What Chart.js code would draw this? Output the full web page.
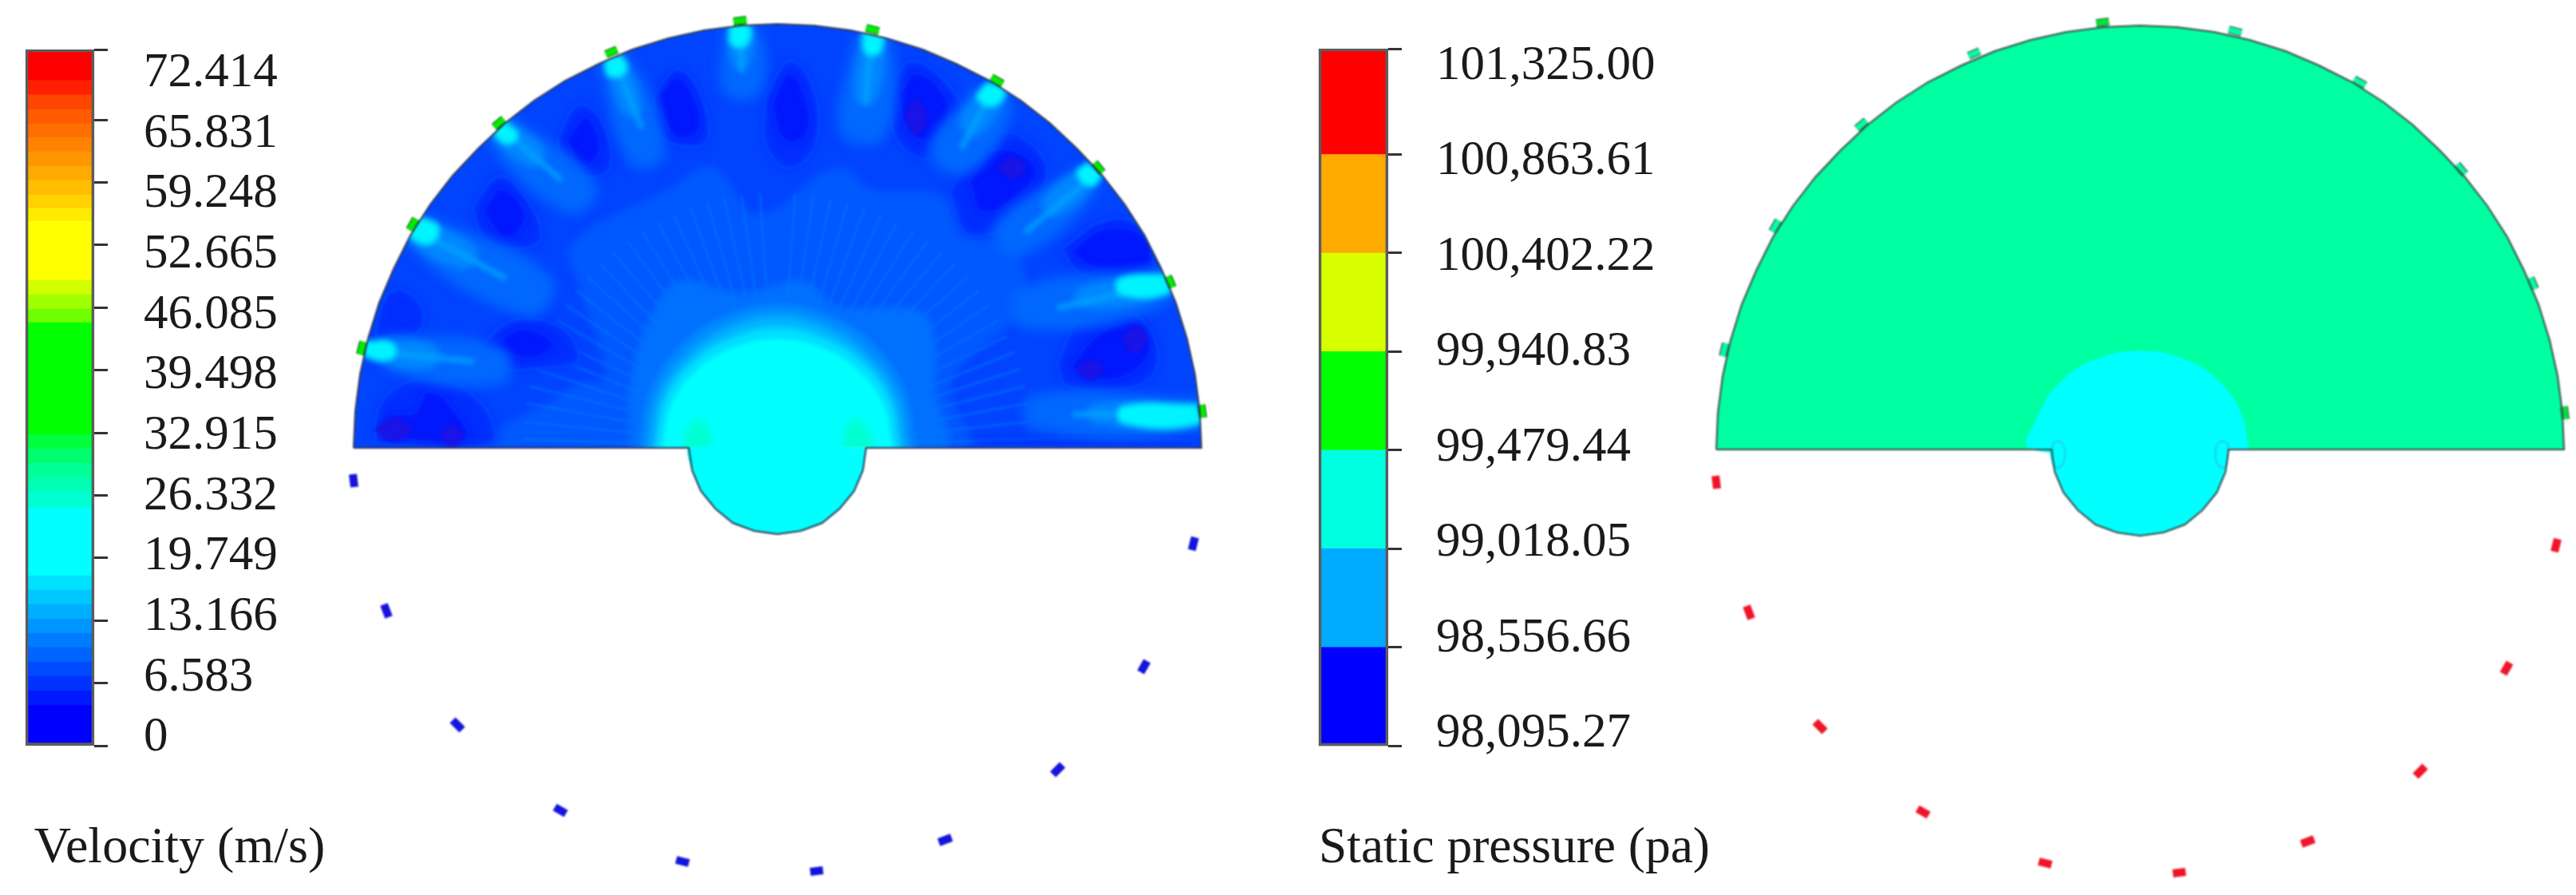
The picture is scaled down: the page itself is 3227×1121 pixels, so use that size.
<!DOCTYPE html>
<html>
<head>
<meta charset="utf-8">
<title>Velocity and static pressure contours</title>
<script src="https://cdn.jsdelivr.net/npm/chart.js@4"></script>
<style>
  body { margin: 0; background: #fff; width: 3227px; height: 1121px; overflow: hidden; position: relative; }
  canvas { position: absolute; top: 0; }
  #velocityField, #pressureField { filter: blur(1px); }
  #velocityBar, #pressureBar { filter: blur(0.5px); }
</style>
</head>
<body>
<canvas id="velocityBar" width="418" height="1121" style="left:0"></canvas>
<canvas id="velocityField" width="1088" height="1121" style="left:430px"></canvas>
<canvas id="pressureBar" width="522" height="1121" style="left:1620px"></canvas>
<canvas id="pressureField" width="1092" height="1121" style="left:2135px"></canvas>
<script>
// colour bar values
const velocityLabels = ['0', '6.583', '13.166', '19.749', '26.332', '32.915', '39.498', '46.085', '52.665', '59.248', '65.831', '72.414'];
const velocityLabelValues = [0, 6.583, 13.166, 19.749, 26.332, 32.915, 39.498, 46.085, 52.665, 59.248, 65.831, 72.414];
const velocityTickValues = [0, 6.583, 13.166, 19.749, 26.332, 32.915, 39.498, 46.085, 52.665, 59.248, 65.831, 73.22];
const velocityBandTops = [4.28, 5.79, 7.31, 8.82, 10.33, 11.84, 13.35, 14.86, 16.37, 17.89, 25.02, 26.70, 28.21, 29.73, 31.24, 32.75, 44.50, 45.93, 47.44, 48.95, 55.17, 56.51, 57.94, 59.45, 60.96, 62.47, 63.98, 65.41, 66.92, 68.44, 69.95, 73.22];
const velocityBandColors = ['#0000ff', '#0019ff', '#0032ff', '#004bff', '#0064ff', '#007dff', '#0096ff', '#00afff', '#00c8ff', '#00e1ff', '#00ffff', '#00ffd2', '#00ffb4', '#00ff96', '#00ff6e', '#00ff3c', '#00ff00', '#6eff00', '#a0ff00', '#d2ff00', '#ffff00', '#ffeb00', '#ffd200', '#ffbe00', '#ffaa00', '#ff9600', '#ff8200', '#ff6e00', '#ff5a00', '#ff4600', '#ff1e00', '#ff0000'];

const pressureLabels = ['98,095.27', '98,556.66', '99,018.05', '99,479.44', '99,940.83', '100,402.22', '100,863.61', '101,325.00'];
const pressureLabelValues = [98095.27, 98556.66, 99018.05, 99479.44, 99940.83, 100402.22, 100863.61, 101325];
const pressureTickValues = [98095.27, 98556.66, 99018.05, 99479.44, 99940.83, 100402.22, 100863.61, 101359];
const pressureBandColors = ['#0000ff', '#00aaff', '#00ffe1', '#00ff00', '#d7ff00', '#ffaa00', '#ff0000'];

const rimTop = [[-531,0],[-529,46],[-523,92],[-513,137],[-499,182],[-481,224],[-460,266],[-435,305],[-407,341],[-375,375],[-341,407],[-305,435],[-266,460],[-224,481],[-182,499],[-137,513],[-92,523],[-46,529],[0,531],[46,529],[92,523],[137,513],[182,499],[224,481],[266,460],[305,435],[341,407],[375,375],[407,341],[435,305],[460,266],[481,224],[499,182],[513,137],[523,92],[529,46],[531,0]];
const hubBottom = [[111,0],[107,-28],[96,-54],[78,-76],[56,-94],[29,-104],[0,-108],[-29,-104],[-56,-94],[-78,-76],[-96,-54],[-107,-28],[-111,0]];
const maskCorners = [[600,0],[600,600],[-600,600],[-600,0]];
const maskBelow = [[-600,0],[-600,-600],[600,-600],[600,0]];
const nozzles = [[[-523,117],[-519,133]],[[-461,273],[-453,287]],[[-355,402],[-343,412]],[[-215,493],[-201,499]],[[-55,534],[-39,536]],[[111,526],[127,522]],[[268,464],[282,456]],[[397,357],[407,345]],[[489,215],[495,201]],[[531,54],[533,38]]];
const outlets = [[[-532,-33],[-530,-49]],[[-493,-196],[-487,-212]],[[-407,-341],[-395,-353]],[[-279,-450],[-265,-458]],[[-127,-516],[-111,-520]],[[41,-531],[57,-529]],[[202,-494],[218,-488]],[[345,-409],[357,-397]],[[455,-281],[463,-267]],[[519,-128],[523,-112]]];

// velocity contours
const ringA = [[-376,0],[-340,30],[-290,55],[-250,80],[-216,87],[-248,201],[-258,255],[-137,324],[-80,351],[-26,293],[75,351],[122,324],[207,316],[265,263],[297,255],[306,175],[218,83],[243,10],[243,0]];
const ringB = [[-187,0],[-180,102],[-151,178],[-123,209],[-44,194],[32,209],[75,178],[179,171],[197,132],[197,71],[207,0]];
const ringC = [[176,-8],[172,0],[159,68],[122,126],[66,164],[0,178],[-66,164],[-122,126],[-159,68],[-172,0],[-176,-8]];
const ringD = [[166,-8],[160,0],[148,64],[113,114],[61,150],[0,164],[-61,150],[-113,114],[-148,64],[-160,0],[-166,-8]];
const ringE = [[156,-8],[152,0],[141,58],[108,106],[58,137],[0,150],[-58,137],[-108,106],[-141,58],[-152,0],[-156,-8]];
const ringCore = [[148,-8],[144,0],[133,52],[102,96],[55,125],[0,136],[-55,125],[-102,96],[-133,52],[-144,0],[-148,-8]];
const notchGlow = [[[-118,0],[-112,25],[-95,35],[-84,15],[-90,-10],[-108,-12]],[[118,0],[112,25],[95,35],[84,15],[90,-10],[108,-12]]];
// the fine radial contour bands around the hub
const radialBands = [[[185,6],[320,11]],[[184,19],[318,33]],[[182,32],[315,56]],[[179,45],[310,77]],[[176,57],[304,99]],[[171,69],[297,120]],[[166,81],[288,140]],[[160,93],[277,160]],[[153,103],[265,179]],[[146,114],[252,197]],[[137,124],[238,214]],[[129,133],[222,230]],[[119,142],[206,245]],[[109,150],[188,259]],[[98,157],[170,271]],[[87,163],[150,283]],[[75,169],[130,292]],[[63,174],[109,301]],[[51,178],[88,308]],[[38,181],[67,313]],[[26,183],[45,317]],[[13,185],[22,319]],
  [[-185,6],[-320,11]],[[-184,19],[-318,33]],[[-182,32],[-315,56]],[[-179,45],[-310,77]],[[-176,57],[-304,99]],[[-171,69],[-297,120]],[[-166,81],[-288,140]],[[-160,93],[-277,160]],[[-153,103],[-265,179]],[[-146,114],[-252,197]],[[-137,124],[-238,214]],[[-129,133],[-222,230]],[[-119,142],[-206,245]],[[-109,150],[-188,259]],[[-98,157],[-170,271]],[[-87,163],[-150,283]],[[-75,169],[-130,292]],[[-63,174],[-109,301]],[[-51,178],[-88,308]],[[-38,181],[-67,313]],[[-26,183],[-45,317]],[[-13,185],[-22,319]]];

const vortexOuter = [
  [[-505,5],[-500,50],[-470,80],[-420,85],[-375,60],[-355,25],[-360,3]],
  [[-505,140],[-490,140],[-450,145],[-445,175],[-470,198],[-490,190]],
  [[-380,120],[-330,160],[-270,150],[-250,110],[-300,100],[-360,100]],
  [[-383,300],[-350,340],[-320,320],[-295,265],[-320,250],[-365,260]],
  [[-275,390],[-250,430],[-220,410],[-210,350],[-240,340],[-270,360]],
  [[-155,440],[-125,475],[-95,440],[-88,385],[-120,378],[-150,395]],
  [[-15,440],[15,485],[45,450],[48,380],[15,350],[-15,380]],
  [[140,450],[170,485],[225,440],[228,395],[190,362],[150,385]],
  [[215,320],[260,390],[305,390],[338,345],[300,290],[240,266]],
  [[355,250],[410,285],[450,280],[470,225],[440,215],[380,218]],
  [[350,105],[380,160],[440,170],[475,130],[465,85],[400,72],[360,80]],
  [[250,2],[520,2],[520,10],[250,10]]
];
const vortexInner = [
  [[-490,12],[-485,40],[-455,45],[-440,70],[-415,60],[-390,10]],
  [[-360,125],[-320,150],[-280,130],[-310,112]],
  [[-370,295],[-345,325],[-315,290],[-340,262]],
  [[-265,385],[-240,415],[-222,375],[-245,352]],
  [[-150,440],[-125,465],[-100,430],[-100,395],[-130,390]],
  [[-8,430],[15,470],[38,430],[35,390],[8,385]],
  [[150,440],[175,470],[215,430],[195,385],[165,395]],
  [[240,335],[275,375],[325,350],[295,310],[255,295]],
  [[365,245],[410,275],[460,265],[465,230],[400,225]],
  [[365,100],[405,145],[455,155],[465,115],[420,85]]
];
const vortexSpots = [
  [[-505,23],[-482,38],[-458,23],[-482,8]],
  [[-424,14],[-409,29],[-394,14],[-409,2]],
  [[159,414],[173,436],[187,414],[173,392]],
  [[275,351],[293,365],[311,351],[293,337]],
  [[372,98],[390,110],[408,98],[390,86]],
  [[431,136],[447,154],[463,136],[447,118]]
];

const jetWide = [
  [[-490,142],[-345,125],[-345,80],[-490,100]],
  [[-445,295],[-285,215],[-311,165],[-465,255]],
  [[-335,418],[-228,331],[-260,293],[-365,388]],
  [[-225,485],[-190,495],[-141,369],[-183,355]],
  [[-68,525],[-26,527],[-22,445],[-66,445]],
  [[96,515],[140,512],[135,390],[80,395]],
  [[250,455],[295,430],[240,345],[190,372]],
  [[375,352],[405,330],[305,240],[270,275]],
  [[482,225],[488,180],[310,150],[300,198]],
  [[527,62],[527,22],[320,24],[320,66]]
];
const jetMid = [
  [[-500,136],[-430,128],[-430,102],[-500,110]],
  [[-450,288],[-378,250],[-392,224],[-462,262]],
  [[-340,412],[-291,372],[-309,352],[-358,394]],
  [[-216,490],[-197,492],[-170,425],[-192,418]],
  [[-60,528],[-34,528],[-36,480],[-56,480]],
  [[106,520],[132,518],[122,435],[98,437]],
  [[262,456],[284,444],[252,392],[228,408]],
  [[385,355],[402,338],[348,290],[332,310]],
  [[488,215],[490,192],[380,176],[378,200]],
  [[527,56],[527,28],[395,32],[395,54]]
];
const jetAxis = [[[-510,122],[-380,108]],[[-450,272],[-340,212]],[[-345,400],[-270,335]],[[-205,488],[-170,400]],[[-47,528],[-45,470]],[[118,518],[110,430]],[[272,450],[230,375]],[[395,340],[310,270]],[[485,205],[350,175]],[[525,42],[370,42]]];
const jetBright = [
  [[-518,134],[-482,131],[-482,112],[-518,115]],
  [[-450,290],[-424,277],[-436,255],[-462,268]],
  [[-342,410],[-325,392],[-339,380],[-356,398]],
  [[-217,490],[-195,490],[-190,470],[-212,466]],
  [[-60,530],[-36,530],[-38,505],[-58,505]],
  [[107,524],[130,522],[128,495],[110,495]],
  [[262,458],[285,448],[272,428],[250,438]],
  [[388,358],[405,342],[392,328],[375,343]],
  [[488,218],[490,194],[430,192],[428,212]],
  [[527,54],[527,30],[432,31],[432,52]]
];

// static pressure contours
const pressureArch = [[136,0],[125,48],[96,88],[52,114],[0,123],[-52,114],[-96,88],[-125,48],[-136,0]];
const pressureHooks = [[[-110,8],[-100,10],[-94,-6],[-100,-22],[-108,-20]],[[110,8],[100,10],[94,-6],[100,-22],[108,-20]]];

function toXY(points) {
  return points.map(p => ({ x: p[0], y: p[1] }));
}

// closed filled contour, soften = blur radius used while this layer is painted
function contour(points, color, tension, soften) {
  return {
    data: toXY(points.concat([points[0]])),
    showLine: true,
    fill: 'shape',
    backgroundColor: color,
    borderColor: color,
    borderWidth: 1,
    pointRadius: 0,
    tension: tension === undefined ? 0.4 : tension,
    soften: soften || 0
  };
}

// outline only
function contourLine(points, color, width, tension, soften) {
  return Object.assign(contour(points, color, tension, soften), { fill: false, borderWidth: width });
}

// short thick strokes, one per nozzle or outlet
function strokes(segments, color, width, soften) {
  const data = [];
  segments.forEach(s => {
    data.push({ x: s[0][0], y: s[0][1] }, { x: s[1][0], y: s[1][1] }, { x: null, y: null });
  });
  return { data: data, showLine: true, fill: false, borderColor: color, borderWidth: width, pointRadius: 0, tension: 0, spanGaps: false, borderCapStyle: 'butt', soften: soften || 0 };
}

// sets the canvas blur for whichever layer is painted next
const softLayers = {
  id: 'softLayers',
  beforeDatasetsDraw(chart) {
    const ds = chart.data.datasets;
    chart.ctx.filter = ds[ds.length - 1].soften ? 'blur(' + ds[ds.length - 1].soften + 'px)' : 'none';
  },
  afterDatasetDraw(chart, args) {
    const next = chart.data.datasets[args.index - 1];
    chart.ctx.filter = next && next.soften ? 'blur(' + next.soften + 'px)' : 'none';
  }
};

function drawField(id, layers, xHalf, yTop, yBottom) {
  new Chart(document.getElementById(id), {
    type: 'scatter',
    data: { datasets: layers.slice().reverse() },  // first dataset is painted last
    plugins: [softLayers],
    options: {
      responsive: false,
      animation: false,
      layout: { padding: 0 },
      plugins: { legend: { display: false }, tooltip: { enabled: false } },
      scales: {
        x: { display: false, min: -xHalf, max: xHalf },
        y: { display: false, min: yBottom, max: yTop }
      }
    }
  });
}

function drawBar(id, cfg) {
  const bands = cfg.tops.map((top, i) => ({
    data: [[i === 0 ? cfg.tickValues[0] : cfg.tops[i - 1], top]],
    backgroundColor: cfg.colors[i],
    borderWidth: 0,
    grouped: false,
    barPercentage: 1,
    categoryPercentage: 1
  }));
  const frame = {
    data: [[cfg.tickValues[0], cfg.tickValues[cfg.tickValues.length - 1]]],
    backgroundColor: 'rgba(0,0,0,0)',
    borderColor: '#5c5c5c',
    borderWidth: 3,
    borderSkipped: false,
    grouped: false,
    barPercentage: 1,
    categoryPercentage: 1,
    clip: false
  };
  new Chart(document.getElementById(id), {
    type: 'bar',
    data: { labels: [''], datasets: [frame].concat(bands) },
    options: {
      responsive: false,
      animation: false,
      layout: { padding: { left: 32, top: cfg.top, right: 0, bottom: 0 } },
      plugins: {
        legend: { display: false },
        tooltip: { enabled: false },
        title: {
          display: true,
          text: cfg.title,
          position: 'bottom',
          color: '#1a1a1a',
          font: { family: '"Liberation Serif"', size: 64, weight: 'normal', lineHeight: 1.2 },
          padding: { top: 1121 - 934 - 19 - 77, bottom: 19 }
        }
      },
      scales: {
        x: { display: false },
        y: {
          position: 'right',
          weight: 0,
          min: cfg.tickValues[0],
          max: cfg.tickValues[cfg.tickValues.length - 1],
          border: { display: false },
          grid: { drawOnChartArea: false, tickLength: 17, tickWidth: 3, tickColor: '#333' },
          ticks: { display: false },
          afterBuildTicks: s => { s.ticks = cfg.tickValues.map(v => ({ value: v })); },
          afterFit: s => { s.width = cfg.tickAxisWidth; }
        },
        yLabels: {
          position: 'right',
          weight: 1,
          min: cfg.labelMin,
          max: cfg.labelMax,
          border: { display: false },
          grid: { display: false, drawTicks: false },
          ticks: {
            autoSkip: false,
            padding: 0,
            crossAlign: 'near',
            color: '#1a1a1a',
            font: { family: '"Liberation Serif"', size: 61 },
            callback: (v, i) => cfg.labels[i]
          },
          afterBuildTicks: s => { s.ticks = cfg.labelValues.map(v => ({ value: v })); },
          afterFit: s => { s.width = cfg.labelAxisWidth; }
        }
      }
    }
  });
}

drawBar('velocityBar', {
  title: 'Velocity (m/s)', top: 62,
  tops: velocityBandTops, colors: velocityBandColors, tickValues: velocityTickValues,
  labels: velocityLabels, labelValues: velocityLabelValues,
  labelMin: -0.87, labelMax: 75.02, tickAxisWidth: 62, labelAxisWidth: 238
});
drawBar('pressureBar', {
  title: 'Static pressure (pa)', top: 61,
  tops: pressureTickValues.slice(1), colors: pressureBandColors, tickValues: pressureTickValues,
  labels: pressureLabels, labelValues: pressureLabelValues,
  labelMin: 98037.3, labelMax: 101410, tickAxisWidth: 60, labelAxisWidth: 343
});

const outline = rimTop.concat(hubBottom);
const maskTop = rimTop.concat(maskCorners);
const maskBottom = hubBottom.slice().reverse().concat(maskBelow);
const velocityLayers = [contour(outline, '#0044ff', 0)]
  .concat([contour(ringA, '#0058ff', 0.4, 4), contour(ringB, '#0070ff', 0.4, 4)])
  .concat([strokes(radialBands, 'rgba(0,120,255,0.55)', 3, 1)])
  .concat(vortexOuter.map(v => contour(v, '#002eff', 0.4, 6)))
  .concat(vortexInner.map(v => contour(v, '#0018fd', 0.4, 5)))
  .concat(vortexOuter.map(v => contourLine(v, '#0050ff', 2, 0.4, 1)))
  .concat(vortexInner.map(v => contourLine(v, '#0034ff', 2, 0.4, 1)))
  .concat(vortexSpots.map(v => contour(v, '#1a14e6', 0.4, 2)))
  .concat(jetWide.map(v => contour(v, '#0068ff', 0.45, 7)))
  .concat(jetMid.map(v => contour(v, '#0088ff', 0.45, 4)))
  .concat([strokes(jetAxis, '#00a4ff', 6, 3)])
  .concat(jetBright.map(v => contour(v, '#00f4ff', 0.45, 3)))
  .concat([contour(ringC, '#0090ff', 0.4, 4), contour(ringD, '#00b8ff', 0.4, 4), contour(ringE, '#00e0ff', 0.4, 3), contour(ringCore, '#00ffff', 0.4, 2)])
  .concat(notchGlow.map(v => contour(v, '#00ffd0', 0.4, 5)))
  .concat([contour(maskTop, '#ffffff', 0), contour(maskBottom, '#ffffff', 0)])
  .concat([contour(hubBottom, '#00ffff', 0.2)])
  .concat([strokes(nozzles, '#0a3a0a', 10), strokes(nozzles, '#00ee00', 8), strokes(outlets, '#1414dc', 10)])
  .concat([contourLine(outline, '#2f3a55', 2, 0)]);
drawField('velocityField', velocityLayers, 544, 561, -560);

const pressureLayers = [contour(outline, '#00ffa0', 0)]
  .concat([contour(pressureArch, '#00ffff'), contour(hubBottom, '#00ffff', 0.2)])
  .concat(pressureHooks.map(v => contourLine(v, '#26c8f0', 2)))
  .concat([strokes(nozzles, '#44605a', 10), strokes(nozzles, '#00ffa0', 7), strokes([nozzles[4], nozzles[9]], '#00e632', 7), strokes(outlets, '#f01428', 10)])
  .concat([contourLine(outline, '#3a4a48', 2, 0)]);
drawField('pressureField', pressureLayers, 546, 563, -558);
</script>
</body>
</html>
